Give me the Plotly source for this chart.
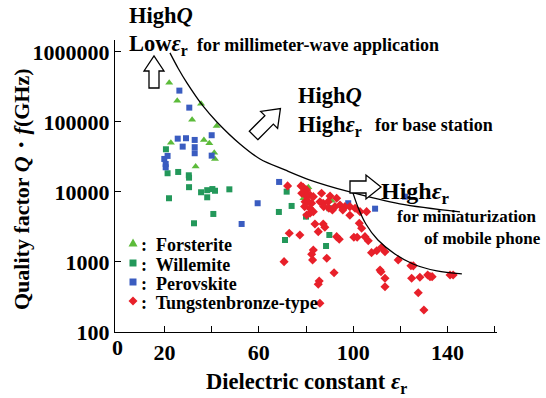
import plotly.graph_objects as go

# ---------------- data ----------------
forsterite_er = [22.0, 25.4, 35.5, 31.7, 42.1, 22.7, 36.7, 39.0, 41.1, 41.4, 33.2, 81.0, 78.9, 90.9]
forsterite_qf = [364000, 201000, 182000, 107000, 87700, 50600, 55300, 49700, 36400, 29600, 23000,
                 11700, 8130, 7510]

willemite_er = [20.6, 21.3, 25.8, 30.3, 30.4, 30.4, 35.5, 38.1, 40.3, 41.4, 47.5, 38.1, 21.9, 40.7,
                32.5, 68.5, 71.8, 73.9, 80.0, 89.9, 71.1, 89.9, 88.5]
willemite_qf = [40700, 18500, 19300, 17300, 16000, 11700, 9900, 10600, 11000, 10400, 10900, 8390,
                8130, 4850, 3570, 5180, 10100, 6310, 4440, 5850, 2060, 2430, 1690]

perovskite_er = [26.3, 30.5, 25.6, 29.1, 32.8, 27.7, 32.8, 32.8, 40.0, 40.0, 21.3, 19.9, 20.5, 20.5,
                 59.5, 52.7, 68.6, 97.9, 109.3, 122.0]
perovskite_qf = [280000, 160000, 57700, 58500, 55300, 44400, 43600, 35700, 64600, 33000, 32700,
                 29600, 25100, 22500, 6900, 3490, 13900, 6900, 5770, 8570]

tungsten_er = [72.2, 77.9, 78.8, 80.3, 79.6, 78.2, 81.7, 83.1, 79.6, 82.4, 85.9, 87.3, 89.4, 92.3,
               94.4, 96.5, 98.6, 100.8, 102.9, 105.7, 81.7, 80.3, 83.1, 86.6, 90.2, 93.0, 80.1,
               80.8, 79.4, 81.6, 87.5, 89.7, 91.2, 95.6, 98.6, 83.8,
               72.9, 77.4, 70.7, 87.3, 88.0, 85.2, 93.0, 94.1, 83.1, 82.4, 82.8, 88.8, 91.9, 85.6,
               85.2, 85.9, 100.3, 101.7, 102.6, 103.6, 105.0, 106.4, 107.8, 110.0, 112.1, 113.5,
               111.4, 111.8, 113.5, 113.5, 119.1, 124.5, 125.5, 124.8, 127.6, 128.3, 131.6, 132.6,
               133.5, 130.0, 141.1, 142.4]
tungsten_qf = [12200, 12200, 11700, 10700, 9570, 9570, 9060, 8570, 7260, 6900, 7260, 6900, 7260,
               6170, 6520, 6170, 6170, 5850, 5230, 5230, 4970, 4690, 5230, 9570, 8770, 8130, 8730,
               7340, 6180, 5850, 6180, 5850, 5530, 5530, 4640, 3490,
               2570, 2430, 1010, 3490, 3130, 2710, 2300, 2110, 1480, 1290, 1070, 1130, 703, 535,
               480, 257, 2250, 2250, 3570, 3030, 2300, 2010, 1360, 1450, 1620, 1400,
               769, 726, 585, 443, 1070, 885, 880, 585, 364, 604, 652, 617,
               617, 206, 652, 652]

# boundary curves
upper_er = [22.3, 25.7, 29.5, 36.3, 42.2, 52.0, 60.5, 71.1, 81.7, 98.6, 119.8, 145.3]
upper_qf = [968000, 590000, 361000, 169000, 100000, 48500, 29600, 20600, 14800, 10000, 6740, 5180]
lower_er = [99.5, 102.0, 105.4, 110.5, 117.7, 125.4, 135.5, 146.1]
lower_qf = [10700, 6110, 3490, 2060, 1300, 936, 744, 675]

x_tickvals = [20, 60, 100, 140]
x_ticktext = ["20", "60", "100", "140"]
x_minor_tickvals = [40, 80, 120, 160]
y_tickvals = [100, 1000, 10000, 100000, 1000000]
y_ticktext = ["100", "1000", "10000", "100000", "1000000"]

series_names = ["Forsterite", "Willemite", "Perovskite", "Tungstenbronze-type"]
series_colors = ["#5cbb3a", "#23985a", "#3a5cc0", "#e8202a"]

FONT = "Liberation Serif"

fig = go.Figure()
for name, xs, ys, col, sym, sz in [
    (series_names[0], forsterite_er, forsterite_qf, series_colors[0], "triangle-up", 7),
    (series_names[1], willemite_er, willemite_qf, series_colors[1], "square", 6),
    (series_names[2], perovskite_er, perovskite_qf, series_colors[2], "square", 6),
    (series_names[3], tungsten_er, tungsten_qf, series_colors[3], "diamond", 7),
]:
    fig.add_trace(go.Scatter(x=xs, y=ys, mode="markers", name=name,
                             marker=dict(symbol=sym, size=sz, color=col, line=dict(width=0))))

for xs, ys in [(upper_er, upper_qf), (lower_er, lower_qf)]:
    fig.add_trace(go.Scatter(x=xs, y=ys, mode="lines",
                             line=dict(color="black", width=1.3, shape="spline", smoothing=0.9),
                             showlegend=False, hoverinfo="skip"))

# geometry helpers (plot area in pixels: x 115..497, y 40..332)
L, R, T, B = 115, 497, 40, 332
def px(x):
    return (x - L) / (R - L)
def py(y):
    return (B - y) / (B - T)

annotations = []
def txt(text, x, y, size, xanchor="left", yanchor="middle", angle=0):
    annotations.append(dict(text=text, x=px(x), y=py(y), xref="paper", yref="paper", showarrow=False,
                            xanchor=xanchor, yanchor=yanchor, textangle=angle,
                            font=dict(family=FONT, size=size, color="black", weight="bold")))

txt("High<i>Q</i>", 127, 16, 22.5)
txt("Low<i>ε</i><sub>r</sub>", 127, 45, 22.5)
txt("for millimeter-wave application", 195, 45, 18)
txt("High<i>Q</i>", 296, 95, 22.5)
txt("High<i>ε</i><sub>r</sub>", 296, 126, 22.5)
txt("for base station", 373, 125, 18)
txt("High<i>ε</i><sub>r</sub>", 379, 193, 24)
txt("for miniaturization", 395, 216, 17)
txt("of mobile phone", 422, 238, 17)
# axis titles
txt("Dielectric constant <i>ε</i><sub>r</sub>", 306, 383, 22.5, xanchor="center")
txt("Quality factor <i>Q</i>・<i>f</i>(GHz)", 22, 189, 22, xanchor="center", angle=-90)
# "0" label under the y axis
annotations.append(dict(text="0", x=0, y=py(347), xref="x", yref="paper", showarrow=False,
                        xanchor="center", yanchor="middle",
                        font=dict(family=FONT, size=22, color="black", weight="bold")))

# legend (manual)
leg_y = [243, 263, 282, 301]
leg_paths = ["M-4.5,-3.5 L4.5,-3.5 L0,4.5 Z",
             "M-3.5,-3.5 L3.5,-3.5 L3.5,3.5 L-3.5,3.5 Z",
             "M-3.5,-3.5 L3.5,-3.5 L3.5,3.5 L-3.5,3.5 Z",
             "M0,-4.5 L4.5,0 L0,4.5 L-4.5,0 Z"]
shapes = []
for name, col, path, yy in zip(series_names, series_colors, leg_paths, leg_y):
    shapes.append(dict(type="path", xref="paper", yref="paper", xsizemode="pixel", ysizemode="pixel",
                       xanchor=px(133), yanchor=py(yy), path=path, fillcolor=col, line=dict(width=0)))
    txt(":  " + name, 139, yy + 2, 18)

# hollow block arrows
def arrow(cx, cy, path):
    shapes.append(dict(type="path", xref="paper", yref="paper", xsizemode="pixel", ysizemode="pixel",
                       xanchor=px(cx), yanchor=py(cy), path=path, fillcolor="white",
                       line=dict(color="black", width=1.3)))

arrow(154, 73, "M-5,-15 L-5,2 L-10,2 L0,17 L10,2 L5,2 L5,-15 Z")
arrow(267, 122, "M-9.19,-17.68 L6.36,-2.12 L10.61,-6.36 L13.44,13.44 L-6.36,10.61 L-2.12,6.36 L-17.68,-9.19 Z")
arrow(365, 187, "M-15,-6 L1,-6 L1,-12 L16,0 L1,12 L1,6 L-15,6 Z")

fig.update_layout(
    width=546, height=398, autosize=False,
    margin=dict(l=L, r=546 - R, t=T, b=398 - B),
    paper_bgcolor="white", plot_bgcolor="white",
    showlegend=False,
    font=dict(family=FONT, size=22, color="black", weight="bold"),
    annotations=annotations, shapes=shapes,
    hovermode=False,
)
fig.update_xaxes(range=[-1, 161], tickvals=x_tickvals, ticktext=x_ticktext, ticks="inside", ticklen=6,
                 tickcolor="black", showline=True, linecolor="black", linewidth=1.3, showgrid=False,
                 minor=dict(tickvals=x_minor_tickvals, ticks="inside", ticklen=6, tickcolor="black",
                            showgrid=False),
                 zeroline=False, tickfont=dict(family=FONT, size=22, color="black", weight="bold"))
fig.update_yaxes(type="log", range=[2, 6.17], tickvals=y_tickvals, ticktext=y_ticktext, ticks="inside",
                 ticklen=6, tickcolor="black", showline=True, linecolor="black", linewidth=1.3,
                 showgrid=False, zeroline=False,
                 tickfont=dict(family=FONT, size=22, color="black", weight="bold"))

# remove the browser's default page margin so the figure sits at the window's top-left corner
fig.write_html("out.html", config={"displayModeBar": False},
               post_script="document.body.style.margin='0';")
